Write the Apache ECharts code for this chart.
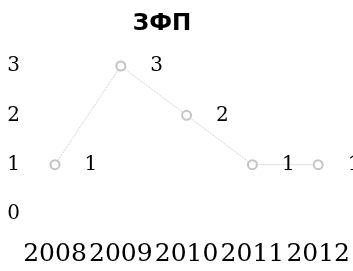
<!DOCTYPE html>
<html>
<head>
<meta charset="utf-8">
<script src="https://cdn.jsdelivr.net/npm/echarts@6/dist/echarts.min.js"></script>
<style>
  html, body { margin: 0; padding: 0; background: #fff; }
  #chart { width: 353px; height: 271px; }
</style>
</head>
<body>
<div id="chart"></div>
<script>
const chartTitle = 'ЗФП';
const years = ['2008', '2009', '2010', '2011', '2012'];
const values = [1, 3, 2, 1, 1];

const serif = 'DejaVu Serif';

const myChart = echarts.init(document.getElementById('chart'));
myChart.setOption({
    animation: false,
    title: {
        text: chartTitle,
        left: 157,
        top: 8,
        textAlign: 'center',
        textStyle: {
            color: '#000',
            fontFamily: 'DejaVu Sans',
            fontWeight: 'bold',
            fontSize: 23
        }
    },
    grid: {
        left: 55,
        right: 33,
        top: 66,
        bottom: 57
    },
    xAxis: {
        type: 'category',
        data: years,
        boundaryGap: false,
        axisLine: { show: false },
        axisTick: { show: false },
        splitLine: { show: false },
        axisLabel: {
            interval: 0,
            color: '#000',
            fontFamily: serif,
            fontSize: 25,
            margin: 28
        }
    },
    yAxis: {
        type: 'value',
        min: 0,
        max: 3,
        interval: 1,
        axisLine: { show: false },
        axisTick: { show: false },
        splitLine: { show: false },
        axisLabel: {
            color: '#000',
            fontFamily: serif,
            fontSize: 20,
            margin: 35
        }
    },
    series: [{
        type: 'line',
        data: values,
        symbol: 'emptyCircle',
        symbolSize: 9,
        lineStyle: { color: '#c4c4c4', width: 1, type: 'dotted' },
        itemStyle: { color: '#c4c4c4', borderWidth: 1 },
        label: {
            show: true,
            position: 'right',
            distance: 24,
            color: '#000',
            fontFamily: serif,
            fontSize: 20
        }
    }]
});
</script>
</body>
</html>
